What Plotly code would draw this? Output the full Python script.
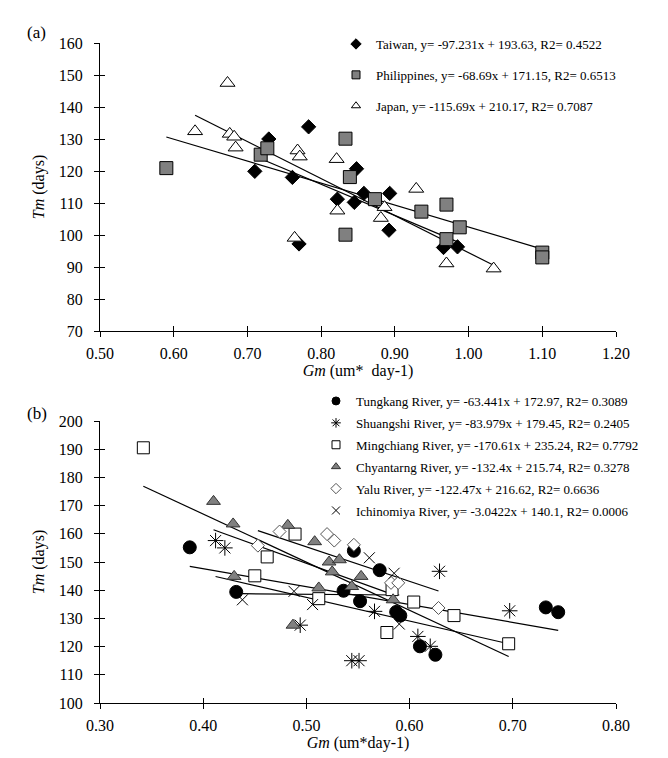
import plotly.graph_objects as go

# ---------------- Panel (a) data ----------------
taiwan_x = [0.729, 0.710, 0.783, 0.761, 0.770, 0.822, 0.848, 0.845, 0.858, 0.893, 0.892, 0.966, 0.985]
taiwan_y = [130.0, 119.9, 133.8, 118.0, 97.2, 111.2, 120.7, 110.2, 113.0, 113.0, 101.5, 96.1, 96.3]
phil_x = [0.590, 0.718, 0.727, 0.833, 0.839, 0.833, 0.873, 0.936, 0.970, 0.988, 0.970, 1.100, 1.100]
phil_y = [120.9, 125.1, 127.1, 130.1, 118.1, 100.1, 111.2, 107.3, 109.5, 102.4, 98.7, 94.5, 93.0]
japan_x = [0.673, 0.629, 0.676, 0.682, 0.684, 0.768, 0.771, 0.821, 0.822, 0.764, 0.929, 0.881, 0.886, 0.970, 1.034]
japan_y = [147.5, 132.4, 131.6, 130.7, 127.3, 126.4, 124.5, 123.7, 107.6, 99.1, 114.4, 105.3, 108.7, 91.1, 89.5]

names_a = ["Taiwan, y= -97.231x + 193.63, R2= 0.4522",
           "Philippines, y= -68.69x + 171.15, R2= 0.6513",
           "Japan, y= -115.69x + 210.17, R2= 0.7087"]
slopes_a = [-97.231, -68.69, -115.69]
intercepts_a = [193.63, 171.15, 210.17]

# ---------------- Panel (b) data ----------------
tung_x = [0.387, 0.432, 0.536, 0.546, 0.552, 0.571, 0.587, 0.591, 0.610, 0.625, 0.732, 0.744]
tung_y = [155.2, 139.4, 139.8, 154.0, 136.1, 147.1, 132.3, 131.0, 120.1, 117.1, 133.9, 132.2]
shuang_x = [0.412, 0.421, 0.494, 0.544, 0.551, 0.566, 0.608, 0.620, 0.629, 0.697]
shuang_y = [157.6, 155.0, 127.6, 115.0, 115.0, 132.5, 123.6, 120.1, 146.7, 132.7]
ming_x = [0.342, 0.450, 0.462, 0.489, 0.512, 0.578, 0.583, 0.604, 0.643, 0.696]
ming_y = [190.5, 145.1, 151.8, 159.9, 137.0, 125.0, 140.2, 135.8, 131.0, 121.0]
chyan_x = [0.410, 0.429, 0.430, 0.482, 0.487, 0.508, 0.512, 0.522, 0.525, 0.532, 0.544, 0.553, 0.584]
chyan_y = [171.5, 163.5, 144.9, 163.0, 127.6, 157.2, 140.8, 150.0, 146.5, 150.8, 141.3, 144.9, 136.6]
yalu_x = [0.453, 0.474, 0.520, 0.527, 0.546, 0.582, 0.589, 0.628]
yalu_y = [155.8, 160.8, 159.9, 157.6, 156.1, 142.6, 142.6, 133.7]
ichi_x = [0.438, 0.488, 0.506, 0.561, 0.585, 0.590]
ichi_y = [136.6, 139.6, 134.9, 151.5, 146.0, 128.0]

names_b = ["Tungkang River, y= -63.441x + 172.97, R2= 0.3089",
           "Shuangshi River, y= -83.979x + 179.45, R2= 0.2405",
           "Mingchiang River, y= -170.61x + 235.24, R2= 0.7792",
           "Chyantarng River, y= -132.4x + 215.74, R2= 0.3278",
           "Yalu River, y= -122.47x + 216.62, R2= 0.6636",
           "Ichinomiya River, y= -3.0422x + 140.1, R2= 0.0006"]
slopes_b = [-63.441, -83.979, -170.61, -132.4, -122.47, -3.0422]
intercepts_b = [172.97, 179.45, 235.24, 215.74, 216.62, 140.1]

FONT = "'Times New Roman', 'Liberation Serif', 'DejaVu Serif', serif"
GRAY = "#808080"

styles_a = [
    dict(symbol="diamond", color="black", line=dict(color="black", width=1)),
    dict(symbol="square", color=GRAY, line=dict(color="black", width=1)),
    dict(symbol="triangle-up", color="white", line=dict(color="black", width=1)),
]
sizes_a = [11, 13, 13]
styles_b = [
    dict(symbol="circle", color="black", line=dict(color="black", width=1)),
    dict(symbol="asterisk-open", color="black", line=dict(color="black", width=1)),
    dict(symbol="square", color="white", line=dict(color="black", width=1)),
    dict(symbol="triangle-up", color=GRAY, line=dict(color="#333333", width=1)),
    dict(symbol="diamond", color="white", line=dict(color="#555555", width=1)),
    dict(symbol="x-thin-open", color="black", line=dict(color="black", width=1)),
]
sizes_b = [13, 13, 12, 12, 10, 11]
LEG_SIZE = 8

fig = go.Figure()

series_a = [(taiwan_x, taiwan_y), (phil_x, phil_y), (japan_x, japan_y)]
series_b = [(tung_x, tung_y), (shuang_x, shuang_y), (ming_x, ming_y),
            (chyan_x, chyan_y), (yalu_x, yalu_y), (ichi_x, ichi_y)]


def add_panel(series, names, slopes, intercepts, styles, sizes, xa, ya, leg, tag):
    for (xs, ys), m, b in zip(series, slopes, intercepts):
        x0, x1 = min(xs), max(xs)
        fig.add_trace(go.Scatter(x=[x0, x1], y=[m * x0 + b, m * x1 + b], mode="lines",
                                 line=dict(color="black", width=1.2), showlegend=False,
                                 xaxis=xa, yaxis=ya, hoverinfo="skip"))
    for i, ((xs, ys), nm, st, sz) in enumerate(zip(series, names, styles, sizes)):
        fig.add_trace(go.Scatter(x=xs, y=ys, mode="markers", name=nm, marker=dict(size=sz, **st),
                                 xaxis=xa, yaxis=ya, showlegend=False, legendgroup="%s%d" % (tag, i)))
        # legend entry with the small symbol used in the original legend
        fig.add_trace(go.Scatter(x=[None], y=[None], mode="markers", name=nm,
                                 marker=dict(size=LEG_SIZE, **st), xaxis=xa, yaxis=ya,
                                 legend=leg, legendgroup="%s%d" % (tag, i), hoverinfo="skip"))


add_panel(series_a, names_a, slopes_a, intercepts_a, styles_a, sizes_a, "x", "y", "legend", "a")
add_panel(series_b, names_b, slopes_b, intercepts_b, styles_b, sizes_b, "x2", "y2", "legend2", "b")

# empty traces to activate overlay axes (inside ticks -> crossing ticks)
fig.add_trace(go.Scatter(x=[], y=[], xaxis="x3", yaxis="y3", showlegend=False))
fig.add_trace(go.Scatter(x=[], y=[], xaxis="x4", yaxis="y4", showlegend=False))

W, H = 668, 758
xdom = [92 / W, 608 / W]
ydom_a = [1 - 323 / H, 1 - 35 / H]
ydom_b = [1 - 695 / H, 1 - 413 / H]

axis_common = dict(showgrid=False, zeroline=False, showline=True, linecolor="black", linewidth=1,
                   ticks="outside", ticklen=5, tickcolor="black", tickwidth=1, automargin=False,
                   tickfont=dict(family=FONT, size=16, color="black"))
over_common = dict(showgrid=False, zeroline=False, showline=False, ticks="inside", ticklen=5,
                   tickcolor="black", tickwidth=1, showticklabels=False, automargin=False)

title_font = dict(family=FONT, size=16, color="black")

fig.update_layout(
    width=W, height=H, margin=dict(l=0, r=0, t=0, b=0),
    paper_bgcolor="white", plot_bgcolor="white",
    font=dict(family=FONT, color="black"),
    xaxis=dict(domain=xdom, anchor="y", range=[0.5, 1.2], dtick=0.1, tick0=0.5, tickformat=".2f",
               title=dict(text="<i>Gm</i> (um*&nbsp; day-1)", font=title_font, standoff=3),
               ticklabelstandoff=3, **axis_common),
    yaxis=dict(domain=ydom_a, anchor="x", range=[70, 160], dtick=10, tick0=70,
               title=dict(text="<i>Tm</i> (days)", font=title_font, standoff=10),
               ticklabelstandoff=8, **axis_common),
    xaxis2=dict(domain=xdom, anchor="y2", range=[0.3, 0.8], dtick=0.1, tick0=0.3, tickformat=".2f",
                title=dict(text="<i>Gm</i> (um*day-1)", font=title_font, standoff=3),
                ticklabelstandoff=3, **axis_common),
    yaxis2=dict(domain=ydom_b, anchor="x2", range=[100, 200], dtick=10, tick0=100,
                title=dict(text="<i>Tm</i> (days)", font=title_font, standoff=10),
                ticklabelstandoff=8, **axis_common),
    xaxis3=dict(overlaying="x", anchor="y", range=[0.5, 1.2], dtick=0.1, tick0=0.5, side="bottom", **over_common),
    yaxis3=dict(overlaying="y", anchor="x", range=[70, 160], dtick=10, tick0=70, side="left", **over_common),
    xaxis4=dict(overlaying="x2", anchor="y2", range=[0.3, 0.8], dtick=0.1, tick0=0.3, side="bottom", **over_common),
    yaxis4=dict(overlaying="y2", anchor="x2", range=[100, 200], dtick=10, tick0=100, side="left", **over_common),
    legend=dict(x=328 / W, y=1 - 21 / H, xanchor="left", yanchor="top", bgcolor="rgba(0,0,0,0)",
                font=dict(family=FONT, size=13, color="black"), tracegroupgap=11, itemwidth=30,
                traceorder="grouped", itemsizing="trace"),
    legend2=dict(x=308 / W, y=1 - 378 / H, xanchor="left", yanchor="top", bgcolor="rgba(0,0,0,0)",
                 font=dict(family=FONT, size=13, color="black"), tracegroupgap=2, itemwidth=30,
                 traceorder="grouped", itemsizing="trace"),
    annotations=[
        dict(text="(a)", x=17 / W, y=1 - 25 / H, xref="paper", yref="paper", xanchor="left",
             yanchor="middle", showarrow=False, font=dict(family=FONT, size=17, color="black")),
        dict(text="(b)", x=17 / W, y=1 - 405 / H, xref="paper", yref="paper", xanchor="left",
             yanchor="middle", showarrow=False, font=dict(family=FONT, size=17, color="black")),
    ],
)

fig.write_html("out.html")
